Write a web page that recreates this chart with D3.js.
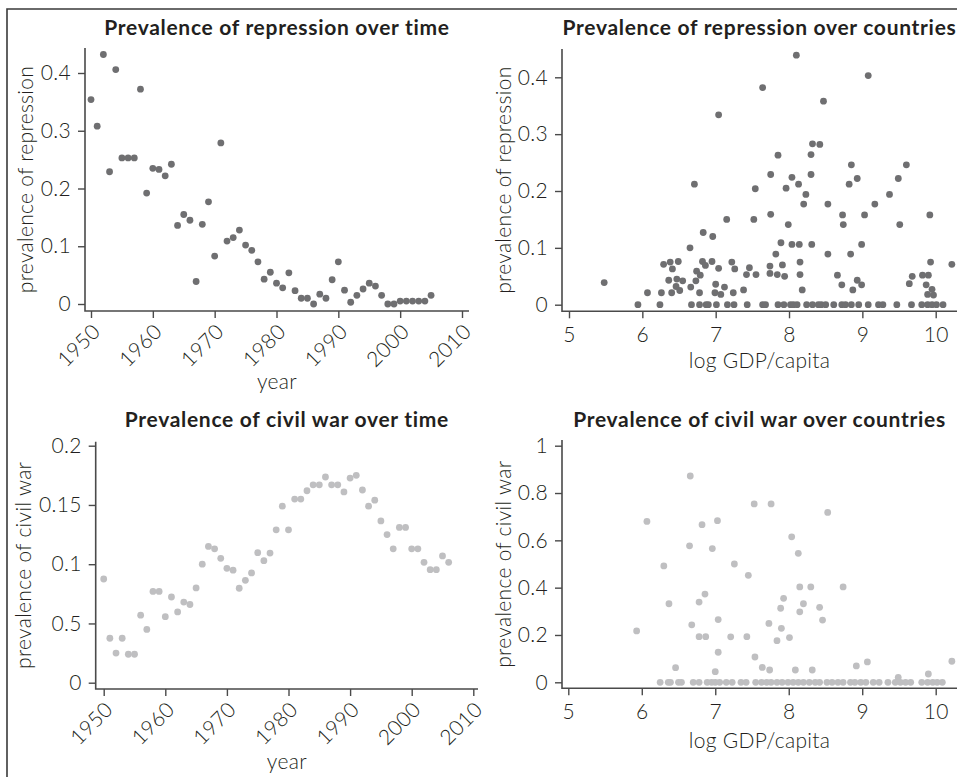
<!DOCTYPE html>
<html>
<head>
<meta charset="utf-8">
<script src="https://cdn.jsdelivr.net/npm/d3@7"></script>
<style>
  html, body { margin: 0; padding: 0; background: #fff; }
  svg { display: block; }
  .tick text { font-family: Lato, "Noto Sans", sans-serif; font-weight: 300; font-size: 21px; fill: #231f20; letter-spacing: 0.3px; }
  .tick line { stroke: #4a4a4a; stroke-width: 1.4; }
  .axis-line { stroke: #4a4a4a; stroke-width: 1.6; fill: none; }
  .title { font-family: Lato, "Noto Sans", sans-serif; font-weight: 700; font-size: 21px; fill: #231f20; text-anchor: middle; letter-spacing: 0.7px; }
  .axis-title { font-family: Lato, "Noto Sans", sans-serif; font-weight: 300; font-size: 21px; fill: #231f20; text-anchor: middle; letter-spacing: 0.3px; }
</style>
</head>
<body>
<svg id="chart" width="957" height="777"></svg>
<script>
// ---- Repression over time (share of countries, by year) ----
const repressionYears = [1950, 1951, 1952, 1953, 1954, 1955, 1956, 1957, 1958, 1959,
  1960, 1961, 1962, 1963, 1964, 1965, 1966, 1967, 1968, 1969,
  1970, 1971, 1972, 1973, 1974, 1975, 1976, 1977, 1978, 1979,
  1980, 1981, 1982, 1983, 1984, 1985, 1986, 1987, 1988, 1989,
  1990, 1991, 1992, 1993, 1994, 1995, 1996, 1997, 1998, 1999,
  2000, 2001, 2002, 2003, 2004, 2005];
const repressionByYear = [0.354, 0.308, 0.432, 0.229, 0.406, 0.253, 0.253, 0.253, 0.372, 0.192,
  0.235, 0.233, 0.222, 0.242, 0.136, 0.155, 0.145, 0.039, 0.138, 0.177,
  0.083, 0.279, 0.109, 0.115, 0.128, 0.102, 0.093, 0.073, 0.043, 0.055,
  0.036, 0.028, 0.054, 0.023, 0.010, 0.010, 0.000, 0.017, 0.010, 0.042,
  0.073, 0.024, 0.003, 0.015, 0.026, 0.036, 0.031, 0.015, 0.000, 0.000,
  0.005, 0.005, 0.005, 0.005, 0.005, 0.015];

// ---- Repression over countries (log GDP per capita, share of years) ----
const repressionCountryGdp = [8.10, 9.08, 7.64, 8.47, 7.04, 8.32, 8.42, 7.85, 8.30, 8.85,
  9.60, 7.75, 8.30, 8.04, 8.93, 9.49, 6.71, 8.13, 8.82, 7.54,
  7.96, 8.23, 9.37, 8.20, 8.53, 9.17, 7.75, 8.73, 9.03, 9.92,
  7.15, 7.52, 7.99, 8.74, 9.51, 6.83, 6.96, 7.89, 8.04, 8.14,
  8.31, 8.99, 6.65, 7.82, 8.53, 8.84, 6.29, 6.38, 6.49, 6.41,
  6.82, 6.95, 6.86, 7.04, 7.22, 7.26, 7.46, 6.74, 6.79, 6.73,
  7.74, 7.74, 7.84, 7.91, 7.94, 8.15, 8.15, 8.18, 7.42, 7.55,
  7.38, 8.66, 8.72, 8.93, 8.99, 8.87, 9.68, 9.64, 9.82, 9.90,
  9.93, 9.87, 9.95, 9.89, 9.97, 10.22, 5.48, 6.07, 6.26, 6.36,
  6.47, 6.55, 6.40, 6.46, 6.51, 6.66, 6.78, 7.00, 6.99, 7.07,
  7.12, 7.24,
  5.94, 6.24, 6.67, 6.78, 6.87, 6.90, 7.01, 7.16, 7.25, 7.43,
  7.64, 7.68, 7.85, 7.93, 8.02, 8.06, 8.11, 8.24, 8.32, 8.40,
  8.44, 8.50, 8.61, 8.72, 8.77, 8.85, 8.95, 9.08, 9.22, 9.28,
  9.47, 9.67, 9.81, 9.89, 9.95, 10.01, 10.10];
const repressionCountryValue = [0.439, 0.403, 0.382, 0.358, 0.334, 0.283, 0.282, 0.263, 0.264, 0.246,
  0.246, 0.229, 0.229, 0.224, 0.222, 0.222, 0.212, 0.212, 0.212, 0.204,
  0.205, 0.194, 0.194, 0.177, 0.177, 0.177, 0.159, 0.158, 0.158, 0.158,
  0.150, 0.150, 0.141, 0.141, 0.141, 0.127, 0.120, 0.109, 0.106, 0.106,
  0.106, 0.106, 0.100, 0.089, 0.089, 0.089, 0.071, 0.075, 0.076, 0.063,
  0.076, 0.076, 0.069, 0.064, 0.075, 0.063, 0.065, 0.059, 0.052, 0.042,
  0.068, 0.055, 0.053, 0.070, 0.050, 0.075, 0.053, 0.026, 0.053, 0.053,
  0.026, 0.052, 0.035, 0.043, 0.035, 0.026, 0.050, 0.037, 0.052, 0.052,
  0.075, 0.035, 0.027, 0.018, 0.017, 0.071, 0.039, 0.021, 0.021, 0.043,
  0.045, 0.042, 0.021, 0.032, 0.025, 0.031, 0.021, 0.036, 0.021, 0.018,
  0.031, 0.021,
  0, 0, 0, 0, 0, 0, 0, 0, 0, 0,
  0, 0, 0, 0, 0, 0, 0, 0, 0, 0,
  0, 0, 0, 0, 0, 0, 0, 0, 0, 0,
  0, 0, 0, 0, 0, 0, 0];

// ---- Civil war over time ----
const civilWarYears = [1950, 1951, 1952, 1953, 1954, 1955, 1956, 1957, 1958, 1959,
  1960, 1961, 1962, 1963, 1964, 1965, 1966, 1967, 1968, 1969,
  1970, 1971, 1972, 1973, 1974, 1975, 1976, 1977, 1978, 1979,
  1980, 1981, 1982, 1983, 1984, 1985, 1986, 1987, 1988, 1989,
  1990, 1991, 1992, 1993, 1994, 1995, 1996, 1997, 1998, 1999,
  2000, 2001, 2002, 2003, 2004, 2005, 2006];
const civilWarByYear = [0.0875, 0.0375, 0.025, 0.0375, 0.024, 0.024, 0.057, 0.045, 0.077, 0.077,
  0.0557, 0.0723, 0.0597, 0.068, 0.066, 0.080, 0.100, 0.115, 0.113, 0.105,
  0.0965, 0.095, 0.0797, 0.0864, 0.0926, 0.1097, 0.103, 0.1094, 0.129, 0.149,
  0.129, 0.155, 0.155, 0.162, 0.167, 0.167, 0.1736, 0.167, 0.167, 0.161,
  0.1727, 0.175, 0.1626, 0.149, 0.154, 0.1365, 0.125, 0.113, 0.131, 0.131,
  0.113, 0.113, 0.1016, 0.0954, 0.0954, 0.107, 0.1016];

// ---- Civil war over countries ----
const civilCountryGdp = [6.66, 6.07, 7.03, 6.82, 7.53, 7.76, 8.53, 6.65, 6.96, 8.04,
  8.13, 6.30, 7.26, 7.45, 8.15, 8.30, 8.74, 6.86, 6.37, 6.78,
  7.93, 7.89, 8.20, 8.15, 8.42, 8.46, 6.68, 7.04, 7.73, 7.90,
  5.93, 6.78, 6.87, 7.21, 7.43, 7.84, 8.01, 7.04, 7.54, 7.64,
  7.74, 6.46, 7.00, 8.09, 8.32, 8.92, 9.07, 10.22, 9.90, 9.49,
  6.25, 6.36, 6.39, 6.50, 6.54, 6.70, 6.78, 6.89, 6.95, 7.00,
  7.06, 7.15, 7.23, 7.35, 7.42, 7.55, 7.63, 7.70, 7.76, 7.84,
  7.91, 7.99, 8.06, 8.13, 8.20, 8.28, 8.36, 8.42, 8.52, 8.59,
  8.67, 8.74, 8.84, 8.90, 8.98, 9.05, 9.15, 9.23, 9.35, 9.45,
  9.52, 9.59, 9.66, 9.81, 9.89, 9.96, 10.02, 10.09];
const civilCountryValue = [0.872, 0.680, 0.683, 0.666, 0.754, 0.754, 0.718, 0.577, 0.565, 0.615,
  0.545, 0.492, 0.500, 0.452, 0.403, 0.403, 0.403, 0.373, 0.332, 0.339,
  0.355, 0.313, 0.332, 0.298, 0.317, 0.263, 0.243, 0.265, 0.249, 0.228,
  0.217, 0.193, 0.193, 0.192, 0.193, 0.176, 0.189, 0.127, 0.107, 0.063,
  0.052, 0.062, 0.045, 0.052, 0.052, 0.069, 0.086, 0.089, 0.035, 0.021,
  0, 0, 0, 0, 0, 0, 0, 0, 0, 0,
  0, 0, 0, 0, 0, 0, 0, 0, 0, 0,
  0, 0, 0, 0, 0, 0, 0, 0, 0, 0,
  0, 0, 0, 0, 0, 0, 0, 0, 0, 0,
  0, 0, 0, 0, 0, 0, 0, 0];

// ---- Tick values and labels ----
const yearTicks = [1950, 1960, 1970, 1980, 1990, 2000, 2010];
const gdpTicks = [5, 6, 7, 8, 9, 10];
const repressionTicks = [0, 0.1, 0.2, 0.3, 0.4];
const repressionTickLabels = ["0", "0.1", "0.2", "0.3", "0.4"];
const civilTimeTicks = [0, 0.05, 0.1, 0.15, 0.2];
const civilTimeTickLabels = ["0", "0.5", "0.1", "0.15", "0.2"];
const civilCountryTicks = [0, 0.2, 0.4, 0.6, 0.8, 1];
const civilCountryTickLabels = ["0", "0.2", "0.4", "0.6", "0.8", "1"];

const DARK_DOT = "#6f6f71";
const LIGHT_DOT = "#bfbfc1";

const svg = d3.select("#chart");

// outer frame (top and left edges)
svg.append("path")
  .attr("d", "M7,777 L7,9 L957,9")
  .attr("fill", "none")
  .attr("stroke", "#3a3a3a")
  .attr("stroke-width", 1.6);

const panels = [
  {
    title: "Prevalence of repression over time", titleY: 35,
    yLabel: "prevalence of repression", xLabel: "year", xLabelY: 389, yLabelX: 26,
    xs: repressionYears, ys: repressionByYear, color: DARK_DOT,
    x: d3.scaleLinear([1950, 2010], [91, 462]), y: d3.scaleLinear([0, 0.4], [304, 73]),
    left: 85, right: 469, top: 48, bottom: 311,
    xTicks: yearTicks, rotated: true,
    yTicks: repressionTicks, yTickLabels: repressionTickLabels
  },
  {
    title: "Prevalence of repression over countries", titleY: 35,
    yLabel: "prevalence of repression", xLabel: "log GDP/capita", xLabelY: 368, yLabelX: 504,
    xs: repressionCountryGdp, ys: repressionCountryValue, color: DARK_DOT,
    x: d3.scaleLinear([5, 10], [569, 935.7]), y: d3.scaleLinear([0, 0.4], [304.7, 77.3]),
    left: 562, right: 957, top: 49, bottom: 311.3,
    xTicks: gdpTicks, rotated: false,
    yTicks: repressionTicks, yTickLabels: repressionTickLabels
  },
  {
    title: "Prevalence of civil war over time", titleY: 427,
    yLabel: "prevalence of civil war", xLabel: "year", xLabelY: 769, yLabelX: 24,
    xs: civilWarYears, ys: civilWarByYear, color: LIGHT_DOT,
    x: d3.scaleLinear([1950, 2010], [103.7, 473.3]), y: d3.scaleLinear([0, 0.2], [682.7, 445.7]),
    left: 95.7, right: 478, top: 441.7, bottom: 689,
    xTicks: yearTicks, rotated: true,
    yTicks: civilTimeTicks, yTickLabels: civilTimeTickLabels
  },
  {
    title: "Prevalence of civil war over countries", titleY: 427,
    yLabel: "prevalence of civil war", xLabel: "log GDP/capita", xLabelY: 748, yLabelX: 504,
    xs: civilCountryGdp, ys: civilCountryValue, color: LIGHT_DOT,
    x: d3.scaleLinear([5, 10], [568.3, 935.7]), y: d3.scaleLinear([0, 1], [682.3, 445.7]),
    left: 562, right: 957, top: 440, bottom: 688.3,
    xTicks: gdpTicks, rotated: false,
    yTicks: civilCountryTicks, yTickLabels: civilCountryTickLabels
  }
];

panels.forEach(p => {
  const g = svg.append("g");

  // y axis ticks
  const yAxis = g.append("g")
    .attr("transform", `translate(${p.left},0)`)
    .call(d3.axisLeft(p.y)
      .tickValues(p.yTicks)
      .tickSize(7)
      .tickPadding(7)
      .tickFormat((d, i) => p.yTickLabels[i]));
  yAxis.select(".domain").remove();
  yAxis.attr("font-size", null).attr("font-family", null);

  // x axis ticks
  const xAxis = g.append("g")
    .attr("transform", `translate(0,${p.bottom})`)
    .call(d3.axisBottom(p.x)
      .tickValues(p.xTicks)
      .tickSize(7)
      .tickPadding(8)
      .tickFormat(d3.format("d")));
  xAxis.select(".domain").remove();
  xAxis.attr("font-size", null).attr("font-family", null);
  if (p.rotated) {
    xAxis.selectAll(".tick text")
      .attr("y", 0).attr("dy", 0)
      .attr("text-anchor", "end")
      .attr("transform", "translate(10,22) rotate(-45)");
  } else {
    xAxis.selectAll(".tick text").attr("dy", "0.75em");
  }

  // axis lines
  g.append("path").attr("class", "axis-line")
    .attr("d", `M${p.left},${p.top} L${p.left},${p.bottom} L${p.right},${p.bottom}`);

  // points
  g.append("g").selectAll("circle")
    .data(p.xs.map((v, i) => [v, p.ys[i]]))
    .join("circle")
    .attr("cx", d => p.x(d[0]))
    .attr("cy", d => p.y(d[1]))
    .attr("r", 3.4)
    .attr("fill", p.color);

  // titles and axis labels
  g.append("text").attr("class", "title")
    .attr("x", (p.left + p.right) / 2).attr("y", p.titleY)
    .text(p.title);
  g.append("text").attr("class", "axis-title")
    .attr("x", (p.left + p.right) / 2).attr("y", p.xLabelY)
    .text(p.xLabel);
  g.append("text").attr("class", "axis-title")
    .attr("transform", `translate(${p.yLabelX},${(p.top + p.bottom) / 2}) rotate(-90)`)
    .attr("dy", "0.35em")
    .text(p.yLabel);
});
</script>
</body>
</html>
